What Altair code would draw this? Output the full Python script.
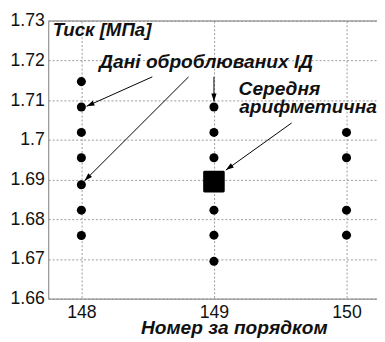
import math
import altair as alt
import pandas as pd

# ---- data ----
x_pos = [148, 149, 150]
pressure_148 = [1.7147, 1.7083, 1.7019, 1.6955, 1.6887, 1.6823, 1.6759]
pressure_149 = [1.7083, 1.7019, 1.6955, 1.6823, 1.6760, 1.6694]
pressure_150 = [1.7019, 1.6955, 1.6823, 1.6760]
mean_x = [149]
mean_y = [1.6895]

y_ticks = [1.66, 1.67, 1.68, 1.69, 1.70, 1.71, 1.72, 1.73]
x_ticks = [148, 149, 150]

label_text = ["Дані оброблюваних ІД", "Середня", "арифметична"]
label_x = [148.135, 149.186, 149.19]
label_y = [1.71813, 1.71145, 1.70675]

arrow_x1 = [148.535, 148.809, 149.0, 149.586]
arrow_y1 = [1.7159, 1.7159, 1.7159, 1.70428]
arrow_x2 = [148.039, 148.024, 149.0, 149.090]
arrow_y2 = [1.70848, 1.6897, 1.7097, 1.6924]

X_DOMAIN = [147.75, 150.23]
Y_DOMAIN = [1.66, 1.73]
W, H = 335, 283
PXX = W / (X_DOMAIN[1] - X_DOMAIN[0])
PXY = H / (Y_DOMAIN[1] - Y_DOMAIN[0])

pts = pd.DataFrame(
    [{"x": 148, "y": v} for v in pressure_148]
    + [{"x": 149, "y": v} for v in pressure_149]
    + [{"x": 150, "y": v} for v in pressure_150]
)
mean_df = pd.DataFrame({"x": mean_x, "y": mean_y})
labels = pd.DataFrame({"t": label_text, "x": label_x, "y": label_y})
angles = []
for a, b, c, d in zip(arrow_x1, arrow_y1, arrow_x2, arrow_y2):
    dx = (c - a) * PXX
    dy = -(d - b) * PXY
    angles.append(math.degrees(math.atan2(dx, -dy)) % 360)
arrows = pd.DataFrame({"x1": arrow_x1, "y1": arrow_y1, "x2": arrow_x2,
                       "y2": arrow_y2, "ang": angles})

FONT = "Liberation Sans"
xs = alt.Scale(domain=X_DOMAIN, nice=False, zero=False)
ys = alt.Scale(domain=Y_DOMAIN, nice=False, zero=False)

x_axis = alt.Axis(values=x_ticks, format="d", grid=True, gridColor="#999",
                  gridDash=[2, 2], ticks=False, tickSize=0, labelPadding=5,
                  labelFont=FONT, labelFontSize=18, labelColor="#111",
                  domainColor="#888", title="Номер за порядком",
                  titleFont=FONT, titleFontSize=19.5, titleFontStyle="italic",
                  titleFontWeight="bold", titleColor="#111", titleX=189,
                  titleY=36, titleAlign="center", titleBaseline="alphabetic")
y_axis = alt.Axis(values=y_ticks, format="~g", grid=True, gridColor="#999",
                  gridDash=[2, 2], ticks=False, tickSize=0, labelPadding=4,
                  labelFont=FONT, labelFontSize=18, labelColor="#111",
                  domainColor="#888", title="Тиск [МПа]", titleAngle=0,
                  titleFont=FONT, titleFontSize=19, titleFontStyle="italic",
                  titleFontWeight="bold", titleColor="#111", titleX=4,
                  titleY=15, titleAlign="left", titleBaseline="alphabetic")

points = alt.Chart(pts).mark_point(filled=True, shape="circle", size=85,
                                   color="black", opacity=1).encode(
    x=alt.X("x:Q", scale=xs, axis=x_axis),
    y=alt.Y("y:Q", scale=ys, axis=y_axis),
)
mean_mark = alt.Chart(mean_df).mark_point(
    filled=True, shape="square", size=360, color="black", opacity=1,
    stroke="black", strokeWidth=3, strokeJoin="round").encode(
    x=alt.X("x:Q", scale=xs), y=alt.Y("y:Q", scale=ys))

top_border = alt.Chart().mark_rule(color="#888", strokeWidth=1).encode(
    y=alt.datum(Y_DOMAIN[1], scale=ys))

arrow_lines = alt.Chart(arrows).mark_rule(color="black", strokeWidth=1).encode(
    x=alt.X("x1:Q", scale=xs), y=alt.Y("y1:Q", scale=ys),
    x2="x2:Q", y2="y2:Q")
arrow_heads = alt.Chart(arrows).mark_point(
    filled=True, color="black", opacity=1, size=260,
    shape="M0,0L0.33,1L-0.33,1Z").encode(
    x=alt.X("x2:Q", scale=xs), y=alt.Y("y2:Q", scale=ys),
    angle=alt.Angle("ang:Q", scale=None))

texts = alt.Chart(labels).mark_text(
    align="left", baseline="alphabetic", font=FONT, fontSize=19.5,
    fontStyle="italic", fontWeight="bold", color="#111").encode(
    x=alt.X("x:Q", scale=xs), y=alt.Y("y:Q", scale=ys), text="t:N")

chart = alt.layer(points, top_border, arrow_lines, arrow_heads, mean_mark,
                  texts).properties(
    width=W, height=H,
    autosize=alt.AutoSizeParams(type="none"),
    padding={"left": 41, "top": 10, "right": 0, "bottom": 40},
).configure_view(stroke=None).configure(background="white")

chart.save("out.html", embed_options={"renderer": "svg", "actions": False})
